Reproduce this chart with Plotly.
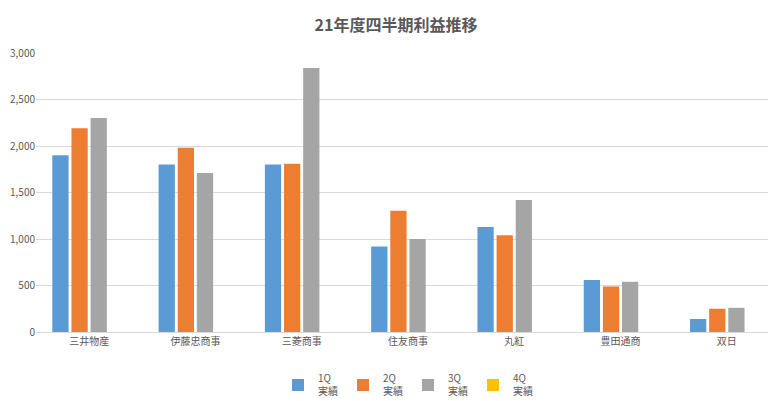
import plotly.graph_objects as go

companies = ["三井物産", "伊藤忠商事", "三菱商事", "住友商事", "丸紅", "豊田通商", "双日"]
q1 = [1900, 1800, 1800, 920, 1130, 560, 140]
q2 = [2190, 1980, 1810, 1305, 1040, 490, 250]
q3 = [2300, 1710, 2840, 1000, 1420, 540, 260]
q4 = [None] * 7
series_names = ["1Q<br>実績", "2Q<br>実績", "3Q<br>実績", "4Q<br>実績"]
tick_vals = [0, 500, 1000, 1500, 2000, 2500, 3000]
tick_text = ["0", "500", "1,000", "1,500", "2,000", "2,500", "3,000"]

COLORS = ["#5B9BD5", "#ED7D31", "#A5A5A5", "#FFC000"]
FONT = "Noto Sans CJK JP"
GREY = "#595959"

fig = go.Figure()
for name, vals, c in zip(series_names, [q1, q2, q3, q4], COLORS):
    fig.add_trace(go.Bar(x=companies, y=vals, name=name, marker_color=c))

fig.update_layout(
    template="none",
    width=776, height=401,
    margin=dict(l=28, r=4, t=45, b=66),
    title=dict(text="<b>21年度四半期利益推移</b>", x=0.5, xanchor="center", y=0.97,
               font=dict(family=FONT, size=16, color=GREY)),
    font=dict(family=FONT, size=10, color=GREY),
    barmode="group", bargap=0.28, bargroupgap=0.15,
    plot_bgcolor="white", paper_bgcolor="white",
    legend=dict(orientation="h", x=0.5, xanchor="center", y=-0.12, yanchor="top",
                font=dict(size=10, color=GREY), itemwidth=30, tracegroupgap=0),
)
fig.update_xaxes(automargin=False, showgrid=False, showline=True, linecolor="#D9D9D9",
                 ticks="", tickfont=dict(size=10, color=GREY))
fig.update_yaxes(automargin=False, range=[0, 3000], tickvals=tick_vals, ticktext=tick_text,
                 showgrid=True, gridcolor="#D9D9D9", zeroline=False, showline=False,
                 ticks="", tickfont=dict(size=10, color=GREY))

fig.write_html("out.html")
